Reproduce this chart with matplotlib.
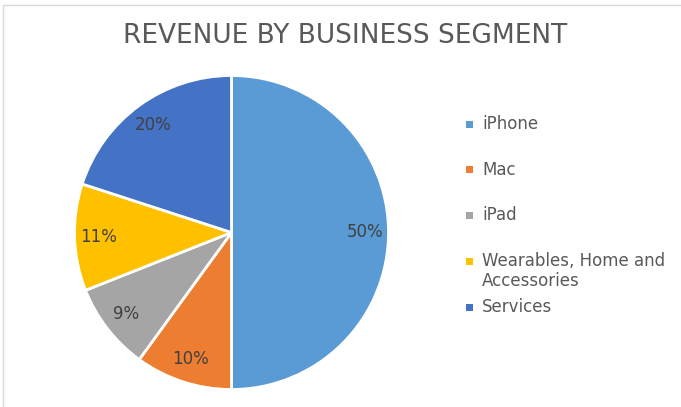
import matplotlib.pyplot as plt
from matplotlib.patches import Rectangle

plt.rcParams["font.family"] = ["DejaVu Sans"]

segments = ["iPhone", "Mac", "iPad", "Wearables, Home and\nAccessories", "Services"]
shares = [50, 10, 9, 11, 20]
colors = ["#5B9BD5", "#ED7D31", "#A5A5A5", "#FFC000", "#4472C4"]

W, H = 681, 407
fig = plt.figure(figsize=(W / 100, H / 100), dpi=100)

# light frame on top / left like the pasted chart area
fig.add_artist(Rectangle((3 / W, -0.1), 1.2, 1 - 5 / H + 0.1, transform=fig.transFigure,
                         fill=False, edgecolor="#d9d9d9", linewidth=1.0))

# pie centre and radius in pixels
cx, cy, r = 231.5, 232.5, 157
ax = fig.add_axes([(cx - r) / W, (H - cy - r) / H, 2 * r / W, 2 * r / H])
wedges, texts, autotexts = ax.pie(
    shares, colors=colors, startangle=90, counterclock=False,
    autopct="%d%%", pctdistance=0.85,
    wedgeprops=dict(edgecolor="white", linewidth=2),
    textprops=dict(color="#404040", fontsize=12))
ax.set_xlim(-1, 1)
ax.set_ylim(-1, 1)
ax.set_aspect("equal")
ax.axis("off")

fig.text(345 / W, 1 - 36 / H, "REVENUE BY BUSINESS SEGMENT", ha="center", va="center",
         fontsize=19, color="#595959")

# legend drawn by hand to follow the uneven spacing of the original
legend_y = [124, 170, 215, 261, 307]
for lab, col, y in zip(segments, colors, legend_y):
    fig.add_artist(Rectangle((466 / W, 1 - (y + 3.5) / H), 7 / W, 7 / H,
                             transform=fig.transFigure, facecolor=col, edgecolor="none"))
    fig.text(482 / W, 1 - (y - 9) / H, lab, ha="left", va="top",
             fontsize=12, color="#595959", linespacing=1.15)

fig.savefig("out.png", dpi=100)
